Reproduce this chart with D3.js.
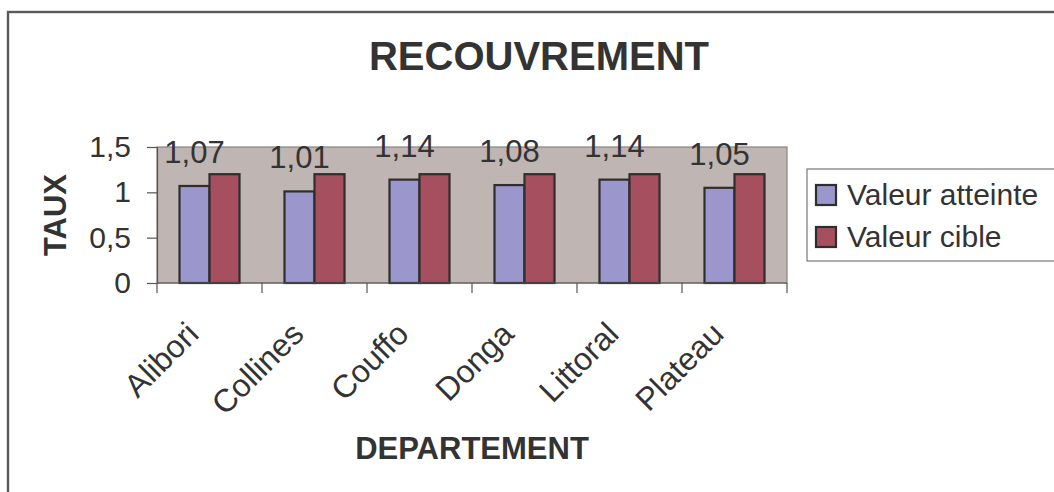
<!DOCTYPE html>
<html>
<head>
<meta charset="utf-8">
<script src="https://cdn.jsdelivr.net/npm/d3@7"></script>
<style>
  html, body { margin: 0; padding: 0; background: #fff; }
  svg { display: block; font-family: "Liberation Sans", Arial, sans-serif; }
</style>
</head>
<body>
<svg id="chart" width="1054" height="492"></svg>
<script>
// Recouvrement par département
const departements = ["Alibori", "Collines", "Couffo", "Donga", "Littoral", "Plateau"];
const valeurAtteinte = [1.07, 1.01, 1.14, 1.08, 1.14, 1.05];
const valeurCible = [1.2, 1.2, 1.2, 1.2, 1.2, 1.2];
const seriesNames = ["Valeur atteinte", "Valeur cible"];
const yTicks = [0, 0.5, 1, 1.5];

const seriesColors = ["#9b96cb", "#a6505f"];
const textColor = "#333333";

const svg = d3.select("#chart");

// outer chart frame
svg.append("rect")
  .attr("x", 8).attr("y", 12)
  .attr("width", 1100).attr("height", 520)
  .attr("fill", "#fff")
  .attr("stroke", "#5a5a5a").attr("stroke-width", 2.4);

const plot = { left: 157, right: 787, top: 147, bottom: 283 };

const x0 = d3.scaleBand()
  .domain(departements)
  .range([plot.left, plot.right])
  .paddingInner(3 / 7)
  .paddingOuter(1.5 / 7);

const x1 = d3.scaleBand()
  .domain(seriesNames)
  .range([0, x0.bandwidth()]);

const y = d3.scaleLinear()
  .domain([0, 1.5])
  .range([plot.bottom, plot.top]);

// plot area background
svg.append("rect")
  .attr("x", plot.left).attr("y", plot.top)
  .attr("width", plot.right - plot.left).attr("height", plot.bottom - plot.top)
  .attr("fill", "#bfb5b2")
  .attr("stroke", "#8a8484").attr("stroke-width", 1.2);

// bars
const rows = departements.map((d, i) => ({
  dep: d,
  vals: [valeurAtteinte[i], valeurCible[i]]
}));

const groups = svg.append("g").selectAll("g")
  .data(rows).join("g")
  .attr("transform", d => `translate(${x0(d.dep)},0)`);

groups.selectAll("rect")
  .data(d => d.vals.map((v, k) => ({ name: seriesNames[k], v, k })))
  .join("rect")
  .attr("x", d => x1(d.name))
  .attr("y", d => y(d.v))
  .attr("width", x1.bandwidth())
  .attr("height", d => y(0) - y(d.v))
  .attr("fill", d => seriesColors[d.k])
  .attr("stroke", "#2e2e2e")
  .attr("stroke-width", 2.2);

// data labels above "Valeur atteinte" bars
groups.append("text")
  .attr("x", x1(seriesNames[0]) + x1.bandwidth() / 2)
  .attr("y", d => y(d.vals[0]) - 23)
  .attr("text-anchor", "middle")
  .attr("font-size", 31)
  .attr("fill", textColor)
  .text(d => d3.format(".2f")(d.vals[0]).replace(".", ","));

// y axis
const yAxis = d3.axisLeft(y)
  .tickValues(yTicks)
  .tickSize(10)
  .tickPadding(16)
  .tickFormat(d => String(d).replace(".", ","));

const gy = svg.append("g")
  .attr("transform", `translate(${plot.left},0)`)
  .call(yAxis);
gy.select(".domain").attr("stroke", "#555").attr("stroke-width", 1.2);
gy.selectAll(".tick line").attr("stroke", "#555").attr("stroke-width", 1.2);
gy.selectAll(".tick text")
  .attr("font-size", 30)
  .attr("font-family", "Liberation Sans, Arial, sans-serif")
  .attr("fill", textColor);

// x axis: ticks at category boundaries
const xAxisG = svg.append("g");
xAxisG.append("line")
  .attr("x1", plot.left).attr("x2", plot.right)
  .attr("y1", plot.bottom).attr("y2", plot.bottom)
  .attr("stroke", "#555").attr("stroke-width", 1.2);
const step = x0.step();
const boundaries = d3.range(departements.length + 1).map(i => plot.left + i * step);
xAxisG.selectAll("line.tick")
  .data(boundaries).join("line")
  .attr("class", "tick")
  .attr("x1", d => d).attr("x2", d => d)
  .attr("y1", plot.bottom).attr("y2", plot.bottom + 10)
  .attr("stroke", "#555").attr("stroke-width", 1.2);

xAxisG.selectAll("text")
  .data(departements).join("text")
  .attr("transform", d => `translate(${x0(d) + x0.bandwidth() / 2 - 9},${plot.bottom + 53}) rotate(-45)`)
  .attr("text-anchor", "end")
  .attr("font-size", 32)
  .attr("fill", textColor)
  .text(d => d);

// titles
svg.append("text")
  .attr("x", 539).attr("y", 70)
  .attr("text-anchor", "middle")
  .attr("font-size", 40).attr("font-weight", "bold")
  .attr("fill", textColor)
  .text("RECOUVREMENT");

svg.append("text")
  .attr("x", (plot.left + plot.right) / 2).attr("y", 459)
  .attr("text-anchor", "middle")
  .attr("font-size", 31).attr("font-weight", "bold")
  .attr("fill", textColor)
  .text("DEPARTEMENT");

svg.append("text")
  .attr("transform", `translate(66,${(plot.top + plot.bottom) / 2}) rotate(-90)`)
  .attr("text-anchor", "middle")
  .attr("font-size", 31).attr("font-weight", "bold")
  .attr("fill", textColor)
  .text("TAUX");

// legend
const legend = svg.append("g");
legend.append("rect")
  .attr("x", 807).attr("y", 169)
  .attr("width", 300).attr("height", 92)
  .attr("fill", "#fff")
  .attr("stroke", "#777").attr("stroke-width", 1.2);

const items = legend.selectAll("g.item")
  .data(seriesNames).join("g")
  .attr("class", "item")
  .attr("transform", (d, i) => `translate(816,${185 + i * 42})`);
items.append("rect")
  .attr("width", 20).attr("height", 20)
  .attr("fill", (d, i) => seriesColors[i])
  .attr("stroke", "#2e2e2e").attr("stroke-width", 2.2);
items.append("text")
  .attr("x", 31).attr("y", 20)
  .attr("font-size", 30)
  .attr("fill", textColor)
  .text(d => d);
</script>
</body>
</html>
